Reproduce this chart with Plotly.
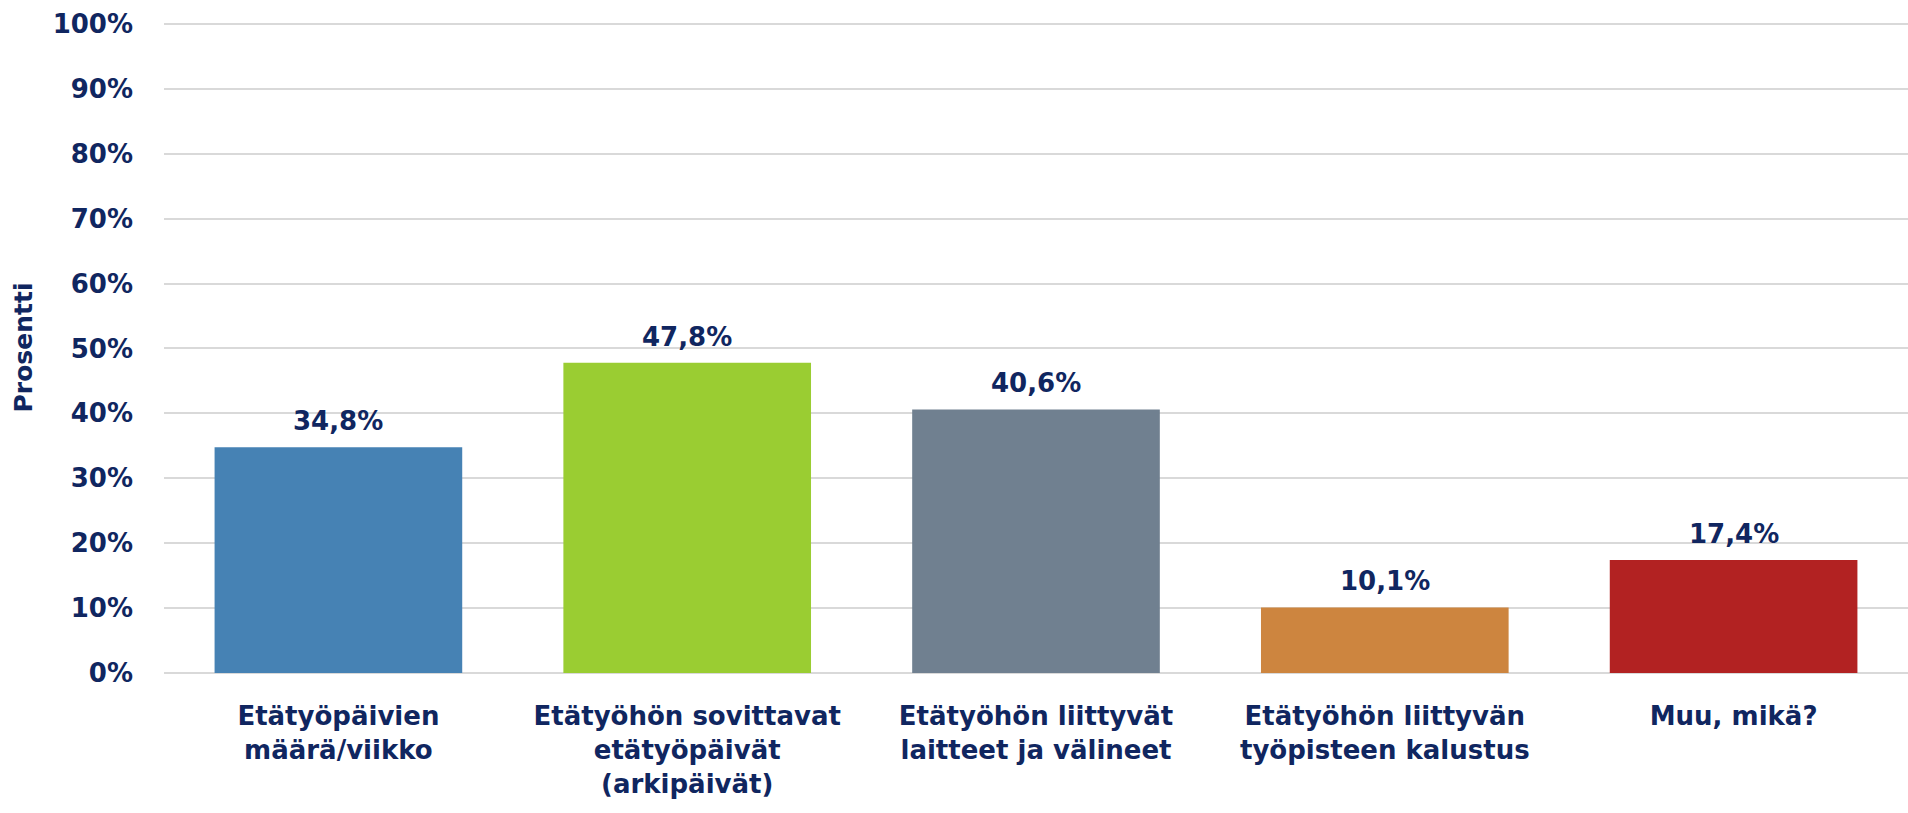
import plotly.graph_objects as go

categories = ["Etätyöpäivien<br>määrä/viikko",
              "Etätyöhön sovittavat<br>etätyöpäivät<br>(arkipäivät)",
              "Etätyöhön liittyvät<br>laitteet ja välineet",
              "Etätyöhön liittyvän<br>työpisteen kalustus",
              "Muu, mikä?"]
values = [34.8, 47.8, 40.6, 10.1, 17.4]
bar_colors = ["#4682B4", "#9ACD32", "#708090", "#CD853F", "#B22222"]
y_ticks = list(range(0, 101, 10))
y_tick_labels = [f"{v}%" for v in y_ticks]

navy = "#102660"
font_family = "'DejaVu Sans', sans-serif"

fig = go.Figure()
fig.add_trace(go.Bar(x=categories, y=values,
                     marker=dict(color=bar_colors, line_width=0),
                     hoverinfo="x+y"))

# value labels a little above the bars, like the original
for cat, val in zip(categories, values):
    fig.add_annotation(x=cat, y=val, text=f"{val:.1f}%".replace(".", ","),
                       showarrow=False, yanchor="bottom", yshift=9,
                       font=dict(size=26, color=navy, family=font_family, weight="bold"))

fig.update_layout(plot_bgcolor="white", paper_bgcolor="white",
                  bargap=0.29, showlegend=False,
                  margin=dict(l=164, r=0, t=22, b=140, autoexpand=False),
                  font=dict(family=font_family, color=navy, size=26, weight="bold"))
fig.update_yaxes(range=[0, 100.3], tickvals=y_ticks, ticktext=y_tick_labels,
                 showgrid=True, gridcolor="#D9D9D9", gridwidth=2,
                 zeroline=True, zerolinecolor="#D9D9D9", zerolinewidth=2,
                 showline=False, ticklabelstandoff=30, automargin=False,
                 tickfont=dict(size=26, color=navy, weight="bold"),
                 title=dict(text="Prosentti", standoff=12,
                            font=dict(size=25, color=navy, weight="bold")))
fig.update_xaxes(showgrid=False, showline=False, ticklabelstandoff=25, automargin=False,
                 tickfont=dict(size=26, color=navy, weight="bold"))

fig.write_html("out.html", config={"displayModeBar": False},
               post_script="document.body.style.margin='0';"
                           "Plotly.Plots.resize(document.getElementById('{plot_id}'));")
